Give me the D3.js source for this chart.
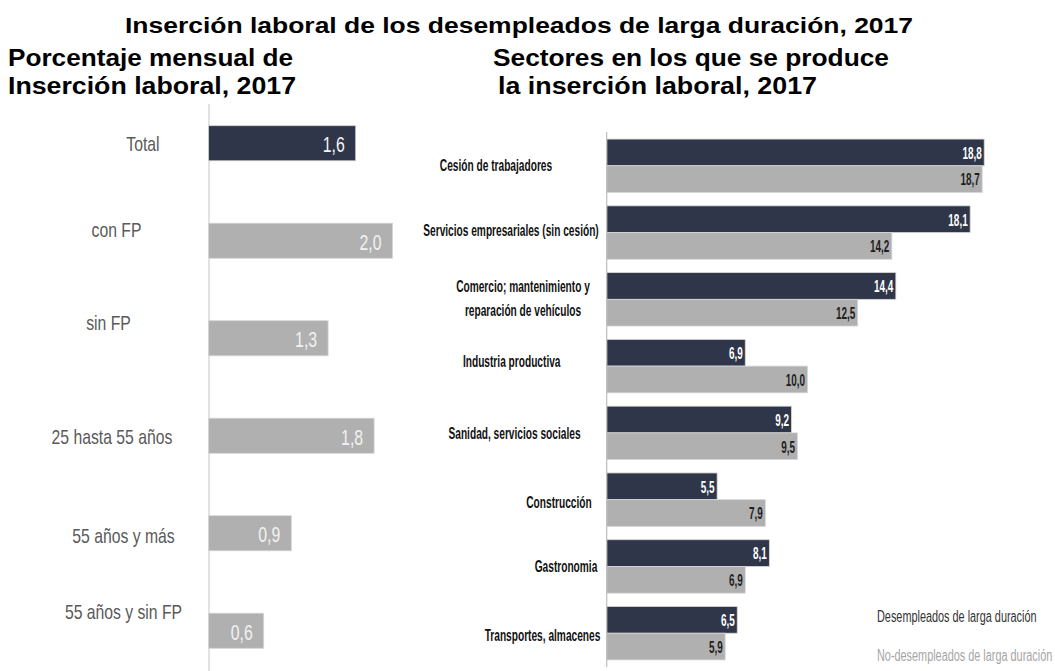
<!DOCTYPE html>
<html>
<head>
<meta charset="utf-8">
<script src="https://cdn.jsdelivr.net/npm/d3@7"></script>
<style>
  html, body { margin: 0; padding: 0; background: #fff; }
  svg { display: block; font-family: "Liberation Sans", Arial, sans-serif; }
</style>
</head>
<body>
<svg id="chart" width="1055" height="671"></svg>
<script>
// Monthly labour-market insertion rate (%) by group
const groups = ["Total", "con FP", "sin FP", "25 hasta 55 años", "55 años y más", "55 años y sin FP"];
const groupRates = [1.6, 2.0, 1.3, 1.8, 0.9, 0.6];

// Share (%) of insertions by sector
const sectors = [
  "Cesión de trabajadores",
  "Servicios empresariales (sin cesión)",
  "Comercio; mantenimiento y\nreparación de vehículos",
  "Industria productiva",
  "Sanidad, servicios sociales",
  "Construcción",
  "Gastronomia",
  "Transportes, almacenes"
];
const longTermUnemployed = [18.8, 18.1, 14.4, 6.9, 9.2, 5.5, 8.1, 6.5];
const otherJobseekers    = [18.7, 14.2, 12.5, 10.0, 9.5, 7.9, 6.9, 5.9];

const seriesNames = ["Desempleados de larga duración", "No-desempleados de larga duración"];

const fmt = v => d3.format(".1f")(v).replace(".", ",");

const svg = d3.select("#chart");
const DARK = "#2f3649", GREY = "#b0b0b0";

// Text drawn with a horizontal squeeze (narrow face look)
function sText(parent, x, y, str, sx, anchor) {
  return parent.append("text")
    .attr("transform", `translate(${x},${y}) scale(${sx},1)`)
    .attr("text-anchor", anchor)
    .text(str);
}

// ---------- headings ----------
svg.append("text").attr("x", 519).attr("y", 33).attr("text-anchor", "middle")
  .attr("font-size", 22.5).attr("font-weight", "bold")
  .attr("textLength", 788).attr("lengthAdjust", "spacingAndGlyphs")
  .text("Inserción laboral de los desempleados de larga duración, 2017");

const heads = [
  { t: "Porcentaje mensual de", x: 8, y: 66, w: 285 },
  { t: "Inserción laboral, 2017", x: 8, y: 93.5, w: 288 },
  { t: "Sectores en los que se produce", x: 493, y: 66, w: 396 },
  { t: "la inserción laboral, 2017", x: 498, y: 93.5, w: 319 }
];
heads.forEach(h => {
  svg.append("text").attr("x", h.x).attr("y", h.y)
    .attr("font-size", 23).attr("font-weight", "bold")
    .attr("textLength", h.w).attr("lengthAdjust", "spacingAndGlyphs")
    .text(h.t);
});

// ---------- left panel: insertion rate ----------
const leftData = groups.map((g, i) => ({ g, v: groupRates[i] }));
const xL = d3.scaleLinear().domain([0, 2]).range([208.5, 392.5]);
const yL = d3.scaleBand().domain(groups).range([94.5, 679.5])
  .paddingInner(0.64).paddingOuter(0.32);

const left = svg.append("g");
left.append("line").attr("x1", 209).attr("x2", 209).attr("y1", 104).attr("y2", 671)
  .attr("stroke", "#d9d9d9").attr("stroke-width", 1.5);

left.selectAll("rect.bar").data(leftData).join("rect")
  .attr("class", "bar")
  .attr("x", xL(0)).attr("y", d => yL(d.g))
  .attr("width", d => xL(d.v) - xL(0)).attr("height", yL.bandwidth())
  .attr("fill", (d, i) => i === 0 ? DARK : GREY)
  .attr("stroke", "#d6d6d6").attr("stroke-width", 0.8);

leftData.forEach((d, i) => {
  const cy = yL(d.g) + yL.bandwidth() / 2;
  sText(left, xL(d.v) - 11, cy + 9, fmt(d.v), 0.72, "end")
    .attr("font-size", 22).attr("fill", i === 0 ? "#f4f4f4" : "#f2f2f2");
});

// category label placement (centre x, baseline offset from bar centre)
const leftLabelPos = {
  "Total": [143, 7.5],
  "con FP": [116.5, -4],
  "sin FP": [108.5, -8],
  "25 hasta 55 años": [112, 8.3],
  "55 años y más": [123.5, 10],
  "55 años y sin FP": [123.5, -11.4]
};
leftData.forEach(d => {
  const cy = yL(d.g) + yL.bandwidth() / 2;
  const [cx, dy] = leftLabelPos[d.g];
  sText(left, cx, cy + dy, d.g, 0.75, "middle")
    .attr("font-size", 21).attr("fill", "#595959");
});

// ---------- right panel: sectors ----------
const rightData = sectors.map((s, i) => ({ s, vals: [longTermUnemployed[i], otherJobseekers[i]] }));
const xR = d3.scaleLinear().domain([0, 20]).range([606.7, 1008.3]);
const yR = d3.scaleBand().domain(sectors).range([132.4, 666.6])
  .paddingInner(0.2).paddingOuter(0.1);
const ySub = d3.scaleBand().domain([0, 1]).range([0, yR.bandwidth()]);

const right = svg.append("g");

const grp = right.selectAll("g.sector").data(rightData).join("g")
  .attr("class", "sector")
  .attr("transform", d => `translate(0,${yR(d.s)})`);

grp.selectAll("rect").data(d => d.vals.map((v, k) => ({ v, k }))).join("rect")
  .attr("x", xR(0)).attr("y", d => ySub(d.k))
  .attr("width", d => xR(d.v) - xR(0)).attr("height", ySub.bandwidth())
  .attr("fill", d => d.k === 0 ? DARK : GREY)
  .attr("stroke", "#d6d6d6").attr("stroke-width", 0.8);

grp.each(function(d) {
  const g = d3.select(this);
  d.vals.forEach((v, k) => {
    sText(g, xR(v) - 2.5, ySub(k) + ySub.bandwidth() / 2 + 6.3, fmt(v), 0.62, "end")
      .attr("font-size", 16).attr("font-weight", "bold")
      .attr("fill", k === 0 ? "#ffffff" : "#1e1e1e");
  });
});

right.append("line").attr("x1", 606.7).attr("x2", 606.7).attr("y1", 132).attr("y2", 667)
  .attr("stroke", "#bdbdbd").attr("stroke-width", 1.2);

// sector label placement (centre x, baseline offsets from group centre)
const rightLabelPos = [
  [496, [4.8]],
  [511, [3]],
  [523, [-7, 17]],
  [511.7, [0.7]],
  [514.5, [6.5]],
  [559, [8.3]],
  [566, [5.7]],
  [542.5, [7.5]]
];
rightData.forEach((d, i) => {
  const cy = yR(d.s) + yR.bandwidth() / 2;
  const [cx, dys] = rightLabelPos[i];
  d.s.split("\n").forEach((line, j) => {
    sText(right, cx, cy + dys[j], line, 0.635, "middle")
      .attr("font-size", 16).attr("font-weight", "bold").attr("fill", "#111");
  });
});

// ---------- legend ----------
const legendColours = ["#333333", "#a6a6a6"];
seriesNames.forEach((name, i) => {
  sText(svg, 877, 622 + i * 39, name, 0.68, "start")
    .attr("font-size", 16).attr("fill", legendColours[i]);
});
</script>
</body>
</html>
